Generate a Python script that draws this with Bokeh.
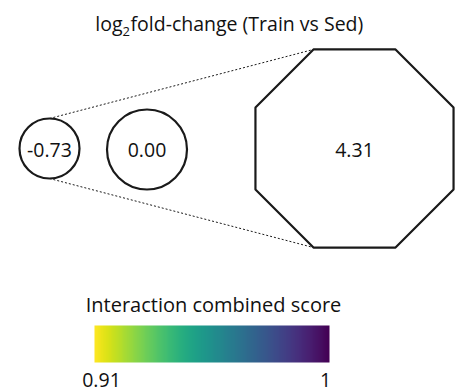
import numpy as np
from bokeh.plotting import figure
from bokeh.models import Range1d, LinearColorMapper
from bokeh.palettes import Viridis256
from bokeh.core.properties import value
from bokeh.embed import file_html
from bokeh.resources import INLINE

# log2 fold-change of each node (Train vs Sed)
node_labels = ["-0.73", "0.00", "4.31"]
node_values = [-0.73, 0.00, 4.31]
node_shapes = ["circle", "circle", "octagon"]

# interaction combined score range shown by the colour bar
score_low = 0.91
score_high = 1.0
score_tick_labels = ["0.91", "1"]

W, H = 468, 392
FONT = "Open Sans"
INK = "#111111"

p = figure(width=W, height=H, output_backend="svg", toolbar_location=None,
           x_range=Range1d(0, W), y_range=Range1d(H, 0), min_border=0)
p.axis.visible = False
p.grid.visible = False
p.outline_line_color = None
p.background_fill_color = "white"
p.border_fill_color = "white"

# node layout (y grows downward)
node_x = [49, 146.5, 354]
node_y = [148, 149, 148]


def node_size(v):
    # radius (circles) or apothem (octagon) in pixels, linear in the fold-change
    return 40.0 + 13.7 * v


sizes = [node_size(v) for v in node_values]

# dashed lines from the first node to the large octagon's top/bottom-left corners
big = 2
vx = node_x[big] - sizes[big] * np.tan(np.pi / 8)
p.segment(x0=[node_x[0], node_x[0]],
          y0=[node_y[0] - sizes[0], node_y[0] + sizes[0]],
          x1=[vx, vx],
          y1=[node_y[big] - sizes[big], node_y[big] + sizes[big]],
          line_color="black", line_width=0.9, line_dash="2 2")

for x, y, s, shape in zip(node_x, node_y, sizes, node_shapes):
    if shape == "circle":
        p.circle(x=[x], y=[y], radius=s, fill_color="white",
                 line_color="#1a1a1a", line_width=2.2)
    else:
        R = s / np.cos(np.pi / 8)
        a = np.pi / 8 + np.arange(8) * np.pi / 4
        p.patch(x + R * np.cos(a), y + R * np.sin(a), fill_color="white",
                line_color="#1a1a1a", line_width=2.2)

p.text(x=node_x, y=[149, 149, 149], text=node_labels,
       text_align="center", text_baseline="middle",
       text_font=value(FONT), text_font_size="19.5px", text_color=INK)

# title with subscript 2
p.text(x=[122], y=[23], text=["log"], text_align="right", text_baseline="middle",
       text_font=value(FONT), text_font_size="19.5px", text_color=INK)
p.text(x=[122], y=[31], text=["2"], text_align="left", text_baseline="middle",
       text_font=value(FONT), text_font_size="13px", text_color=INK)
p.text(x=[130], y=[23], text=["fold-change (Train vs Sed)"], text_align="left",
       text_baseline="middle",
       text_font=value(FONT), text_font_size="19.5px", text_color=INK)

# colour bar
mapper = LinearColorMapper(palette=list(reversed(Viridis256)), low=score_low, high=score_high)
grad = np.linspace(score_low, score_high, 256).reshape(1, 256)
bar_x0, bar_x1, bar_y0, bar_y1 = 94, 329, 325, 362
p.image(image=[grad], x=bar_x0, y=bar_y0, dw=bar_x1 - bar_x0, dh=bar_y1 - bar_y0,
        color_mapper=mapper)
p.text(x=[213], y=[304], text=["Interaction combined score"],
       text_align="center", text_baseline="middle",
       text_font=value(FONT), text_font_size="20px", text_color=INK)
p.text(x=[bar_x0 + 7, bar_x1 - 4], y=[379, 379], text=score_tick_labels,
       text_align="center", text_baseline="middle",
       text_font=value(FONT), text_font_size="19.5px", text_color=INK)

open("out.html", "w").write(file_html(p, INLINE))
